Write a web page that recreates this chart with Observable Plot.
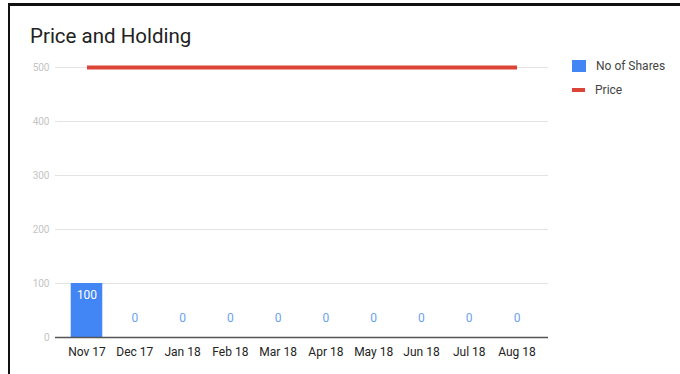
<!DOCTYPE html>
<html>
<head>
<meta charset="utf-8">
<script src="https://cdn.jsdelivr.net/npm/d3@7"></script>
<script src="https://cdn.jsdelivr.net/npm/@observablehq/plot@0.6"></script>
<style>
  html, body { margin: 0; padding: 0; background: #fff; }
  body { width: 680px; height: 374px; overflow: hidden; position: relative; font-family: Roboto, "Noto Sans", sans-serif; }
  #frame { position: absolute; left: 8px; top: 3px; width: 700px; height: 400px; border-top: 3px solid #111; border-left: 2px solid #111; box-sizing: border-box; pointer-events: none; }
  #title { position: absolute; left: 30px; top: 23px; font-size: 20.5px; color: #222; line-height: 26px; }
  #chart { position: absolute; left: 0; top: 52px; }
  .legend { position: absolute; left: 572px; font-size: 12px; color: #444; display: flex; align-items: center; }
  .legend .sw { display: inline-block; margin-right: 10px; }
</style>
</head>
<body>
<div id="title">Price and Holding</div>
<div id="chart"></div>
<div class="legend" style="top:59px"><span class="sw" style="width:14px;height:12px;background:#4285f4"></span>No of Shares</div>
<div class="legend" style="top:83px"><span class="sw" style="width:13px;height:4px;background:#db4437"></span>Price</div>
<div id="frame"></div>
<script>
const months = ["Nov 17", "Dec 17", "Jan 18", "Feb 18", "Mar 18", "Apr 18", "May 18", "Jun 18", "Jul 18", "Aug 18"];
const shares = [100, 0, 0, 0, 0, 0, 0, 0, 0, 0];
const price = [500, 500, 500, 500, 500, 500, 500, 500, 500, 500];
const yTicks = [0, 100, 200, 300, 400, 500];

const data = months.map((m, i) => ({month: m, shares: shares[i], price: price[i]}));

const chart = Plot.plot({
  width: 680,
  height: 320,
  marginTop: 15,
  marginBottom: 35,
  marginLeft: 55,
  marginRight: 132,
  style: {fontFamily: "Roboto, 'Noto Sans', sans-serif", background: "transparent"},
  x: {domain: months, paddingInner: 0.34, paddingOuter: 0.17, insetLeft: 7.6, insetRight: 7.6, round: false, label: null},
  y: {domain: [0, 500], label: null},
  marks: [
    Plot.ruleY(yTicks.filter(t => t > 0), {stroke: "#e3e3e3", strokeWidth: 1}),
    Plot.barY(data, {x: "month", y: "shares", fill: "#4285f4"}),
    Plot.ruleY([0], {stroke: "#555", strokeWidth: 1.5}),
    Plot.lineY(data, {x: "month", y: "price", stroke: "#db4437", strokeWidth: 4, strokeLinecap: "butt"}),
    Plot.text(data.filter(d => d.shares > 0), {x: "month", y: "shares", text: d => String(d.shares), fill: "white", dy: 12, fontSize: 12}),
    Plot.text(data.filter(d => d.shares === 0), {x: "month", y: "shares", text: d => String(d.shares), fill: "#6a9ff5", dy: -19, fontSize: 12}),
    Plot.axisX({tickSize: 0, tickPadding: 10, fontSize: 12, color: "#222"}),
    Plot.axisY({ticks: yTicks, tickSize: 0, tickPadding: 6, fontSize: 10, color: "#c4c4c4"})
  ]
});
document.getElementById("chart").appendChild(chart);
</script>
</body>
</html>
